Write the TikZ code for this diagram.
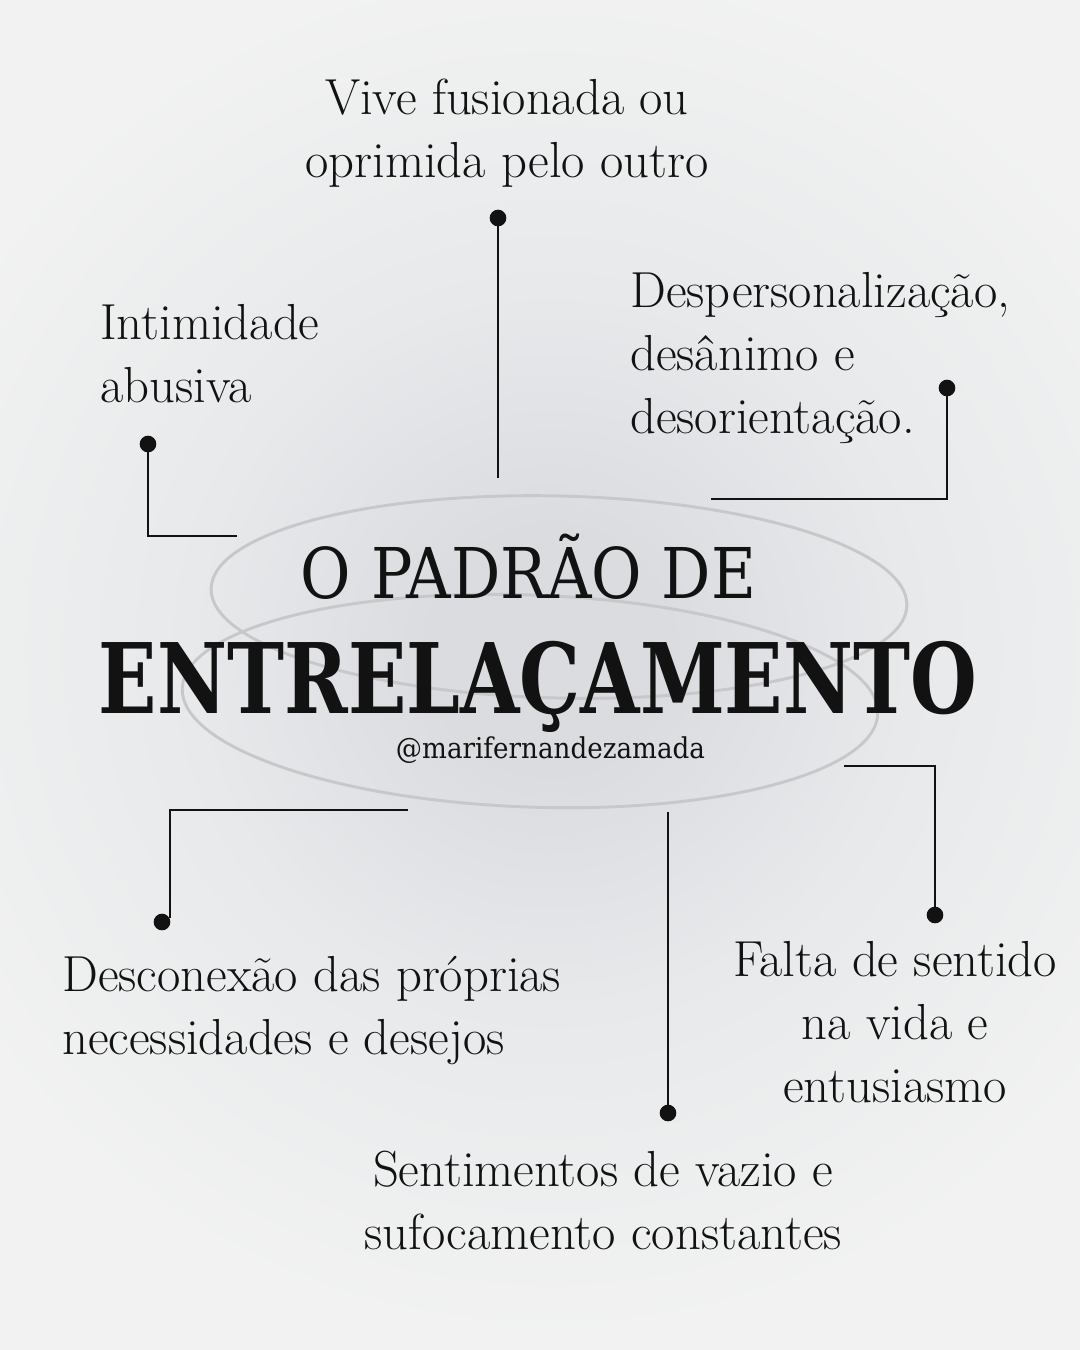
\documentclass[tikz,border=0pt]{standalone}
\usepackage{fontspec}
\usepackage{graphicx}
\newfontfamily\titlefont{DejaVu Serif}
\definecolor{bgout}{RGB}{241,242,241}
\definecolor{bgmid}{RGB}{232,233,235}
\definecolor{bgin}{RGB}{219,220,224}
\definecolor{ink}{RGB}{18,18,18}
\definecolor{ringgray}{RGB}{200,200,203}
\pgfdeclareradialshading{bgshade}{\pgfpoint{0bp}{0bp}}{color(0bp)=(bgin); color(4bp)=(bgin); color(12bp)=(bgmid); color(23bp)=(bgout); color(50bp)=(bgout)}
\begin{document}
\begin{tikzpicture}[x=0.75pt,y=-0.75pt,
  lbl/.style={font=\fontsize{38}{47.25}\selectfont, text=ink, inner sep=0pt},
  ttl/.style={anchor=base, inner sep=0pt, text=ink},
  dotnode/.style={circle, fill=ink, inner sep=0pt, minimum size=12.5pt},
  link/.style={draw=ink, line width=1.7pt},
  ring/.style={draw=ringgray, line width=2.2pt}]
\useasboundingbox (0,0) rectangle (1080,1350);
\fill[bgout] (0,0) rectangle (1080,1350);
\begin{scope}
  \clip (0,0) rectangle (1080,1350);
  \shade[shading=bgshade] (-200,-100) rectangle (1300,1400);
\end{scope}

% rings
\draw[ring, rotate around={-1.4:(559,597)}] (559,597) ellipse [x radius=348, y radius=101];
\draw[ring, rotate around={-2.1:(530,701)}] (530,701) ellipse [x radius=348, y radius=106];

% title
\node[ttl] (t1) at (528.5,598) {\resizebox{341.25pt}{\height}{\titlefont\fontsize{52.5}{60}\selectfont O PADRÃO DE}};
\node[ttl] (t2) at (538,713) {\resizebox{658.5pt}{\height}{\titlefont\bfseries\fontsize{73}{80}\selectfont ENTRELAÇAMENTO}};
\node[ttl] (t3) at (550.5,758) {\resizebox{231.75pt}{\height}{\titlefont\fontsize{21.5}{24}\selectfont @marifernandezamada}};

% connectors
\node[dotnode] (dA) at (498,218) {};
\coordinate (eA) at (498,478);
\draw[link] (dA.center) -- (eA);

\node[dotnode] (dB) at (148,444) {};
\coordinate (cB) at (148,536);
\coordinate (eB) at (237,536);
\draw[link] (dB.center) -- (cB) -- (eB);

\node[dotnode] (dC) at (947,388) {};
\coordinate (cC) at (947,499);
\coordinate (eC) at (711,499);
\draw[link] (dC.center) -- (cC) -- (eC);

\node[dotnode] (dD) at (935,915) {};
\coordinate (sD) at (844,766);
\coordinate (cD) at (935,766);
\draw[link] (sD) -- (cD) -- (dD.center);

\node[dotnode] (dE) at (162,922) {};
\coordinate (sE) at (408,810);
\coordinate (cE) at (170,810);
\coordinate (eE) at (170,918);
\draw[link] (sE) -- (cE) -- (eE);

\node[dotnode] (dF) at (668,1113) {};
\coordinate (sF) at (668,812);
\draw[link] (sF) -- (dF.center);

% labels
\node[lbl, anchor=north, align=center] (lA) at (507,79) {Vive fusionada ou\\oprimida pelo outro};
\node[lbl, anchor=north west, align=left] (lB) at (100,304) {Intimidade\\abusiva};
\node[lbl, anchor=north west, align=left] (lC) at (630,272) {Despersonalização,\\desânimo e\\desorientação.};
\node[lbl, anchor=north west, align=left] (lE) at (62,956) {Desconexão das próprias\\necessidades e desejos};
\node[lbl, anchor=north, align=center] (lD) at (895,941) {Falta de sentido\\na vida e\\entusiasmo};
\node[lbl, anchor=north, align=center] (lF) at (603,1151) {Sentimentos de vazio e\\sufocamento constantes};
\end{tikzpicture}
\end{document}
